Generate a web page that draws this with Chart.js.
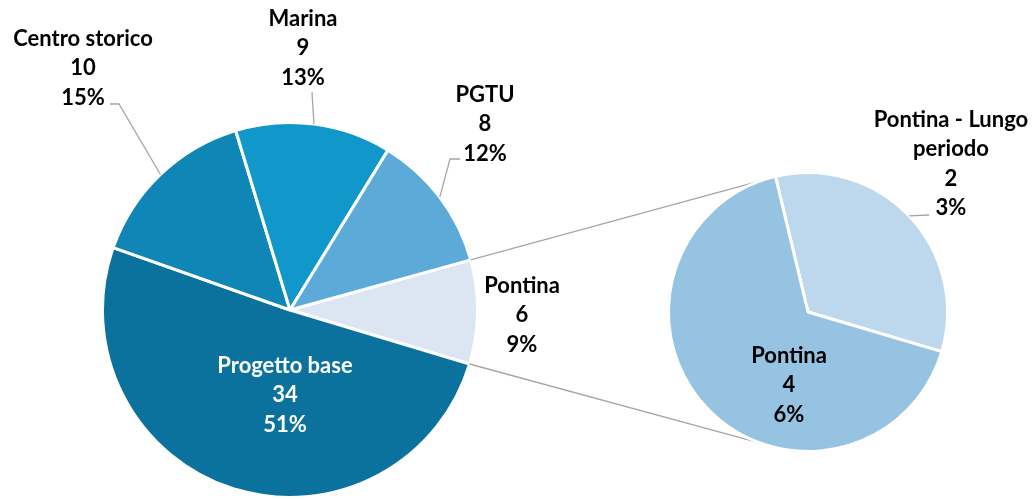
<!DOCTYPE html>
<html>
<head>
<meta charset="utf-8">
<script src="https://cdn.jsdelivr.net/npm/chart.js@4.4.1/dist/chart.umd.min.js"></script>
<style>
  body { margin: 0; background: #fff; }
  #wrap { position: relative; width: 1033px; height: 500px; }
  #wrap canvas { position: absolute; left: 0; top: 0; }
</style>
</head>
<body>
<div id="wrap">
  <canvas id="mainPie" width="1033" height="500"></canvas>
  <canvas id="subPie" width="1033" height="500"></canvas>
</div>
<script>
// main pie (clockwise, starting from the slice that is split out)
const mainLabels = ['Pontina', 'Progetto base', 'Centro storico', 'Marina', 'PGTU'];
const mainValues = [6, 34, 10, 9, 8];
const mainColors = ['#DBE6F2', '#0A729C', '#0F86B6', '#1198CB', '#5BAAD8'];

// secondary pie: breakdown of "Pontina"
const subLabels = [['Pontina - Lungo', 'periodo'], 'Pontina'];
const subValues = [2, 4];
const subColors = ['#BDD7EC', '#97C3E3'];

const grandTotal = mainValues.reduce((a, b) => a + b, 0);

// where each label block sits, relative to its pie centre (px)
// leader = [elbow dx, elbow dy, horizontal tail]
const mainLabelPos = [
  { dx: 232, dy: 5 },
  { dx: -5, dy: 85, color: '#fff' },
  { dx: -207, dy: -242, leader: [-171, -206, -9] },
  { dx: 13, dy: -262, leader: [22, -218, 0] },
  { dx: 195, dy: -186, leader: [160, -151, 10] }
];
const subLabelPos = [
  { dx: 143, dy: -148, leader: [121, -97, 0] },
  { dx: -19, dy: 73 }
];

const FONT = 'bold 22px Lato, "Open Sans", sans-serif';
const LINE_H = 29.5;

const sliceLabels = {
  id: 'sliceLabels',
  afterDatasetsDraw(chart, args, opts) {
    const ctx = chart.ctx;
    const arcs = chart.getDatasetMeta(0).data;
    const values = chart.data.datasets[0].data;
    ctx.save();
    ctx.font = FONT;
    ctx.textAlign = 'center';
    ctx.textBaseline = 'middle';
    arcs.forEach((arc, i) => {
      const p = opts.pos[i];
      const cx = arc.x, cy = arc.y;
      if (p.leader) {
        const mid = (arc.startAngle + arc.endAngle) / 2;
        const ex = cx + Math.cos(mid) * arc.outerRadius;
        const ey = cy + Math.sin(mid) * arc.outerRadius;
        const [lx, ly, tail] = p.leader;
        ctx.strokeStyle = '#A6A6A6';
        ctx.lineWidth = 1.3;
        ctx.beginPath();
        ctx.moveTo(ex, ey);
        ctx.lineTo(cx + lx, cy + ly);
        ctx.lineTo(cx + lx + tail, cy + ly);
        ctx.stroke();
      }
      let name = chart.data.labels[i];
      const lines = (Array.isArray(name) ? name.slice() : [name]);
      lines.push(String(values[i]));
      lines.push(Math.round(values[i] / grandTotal * 100) + '%');
      ctx.fillStyle = p.color || '#000';
      const y0 = cy + p.dy - (lines.length - 1) * LINE_H / 2;
      lines.forEach((t, k) => ctx.fillText(t, cx + p.dx, y0 + k * LINE_H));
    });
    ctx.restore();
  }
};

const baseOptions = {
  responsive: false,
  animation: false,
  events: [],
  plugins: { legend: { display: false }, tooltip: { enabled: false } }
};

const mainChart = new Chart(document.getElementById('mainPie'), {
  type: 'pie',
  data: {
    labels: mainLabels,
    datasets: [{ data: mainValues, backgroundColor: mainColors, borderColor: '#fff', borderWidth: 3 }]
  },
  options: Object.assign({}, baseOptions, {
    rotation: 74.5,
    layout: { padding: { left: 101, top: 121, right: 554, bottom: 1 } },
    plugins: Object.assign({}, baseOptions.plugins, { sliceLabels: { pos: mainLabelPos } })
  }),
  plugins: [sliceLabels]
});

// lines joining the split slice to the secondary pie
const connectors = {
  id: 'connectors',
  beforeDatasetsDraw(chart) {
    const src = mainChart.getDatasetMeta(0).data[0];
    const dst = chart.getDatasetMeta(0).data[0];
    const a = 110 * Math.PI / 180;
    const ctx = chart.ctx;
    ctx.save();
    ctx.strokeStyle = '#A6A6A6';
    ctx.lineWidth = 1.3;
    ctx.beginPath();
    ctx.moveTo(src.x + Math.cos(src.startAngle) * src.outerRadius, src.y + Math.sin(src.startAngle) * src.outerRadius);
    ctx.lineTo(dst.x + Math.cos(-a) * dst.outerRadius, dst.y + Math.sin(-a) * dst.outerRadius);
    ctx.moveTo(src.x + Math.cos(src.endAngle) * src.outerRadius, src.y + Math.sin(src.endAngle) * src.outerRadius);
    ctx.lineTo(dst.x + Math.cos(a) * dst.outerRadius, dst.y + Math.sin(a) * dst.outerRadius);
    ctx.stroke();
    ctx.restore();
  }
};

new Chart(document.getElementById('subPie'), {
  type: 'pie',
  data: {
    labels: subLabels,
    datasets: [{ data: subValues, backgroundColor: subColors, borderColor: '#fff', borderWidth: 3 }]
  },
  options: Object.assign({}, baseOptions, {
    rotation: -13.5,
    layout: { padding: { left: 667, top: 170, right: 84, bottom: 46 } },
    plugins: Object.assign({}, baseOptions.plugins, { sliceLabels: { pos: subLabelPos } })
  }),
  plugins: [connectors, sliceLabels]
});
</script>
</body>
</html>
